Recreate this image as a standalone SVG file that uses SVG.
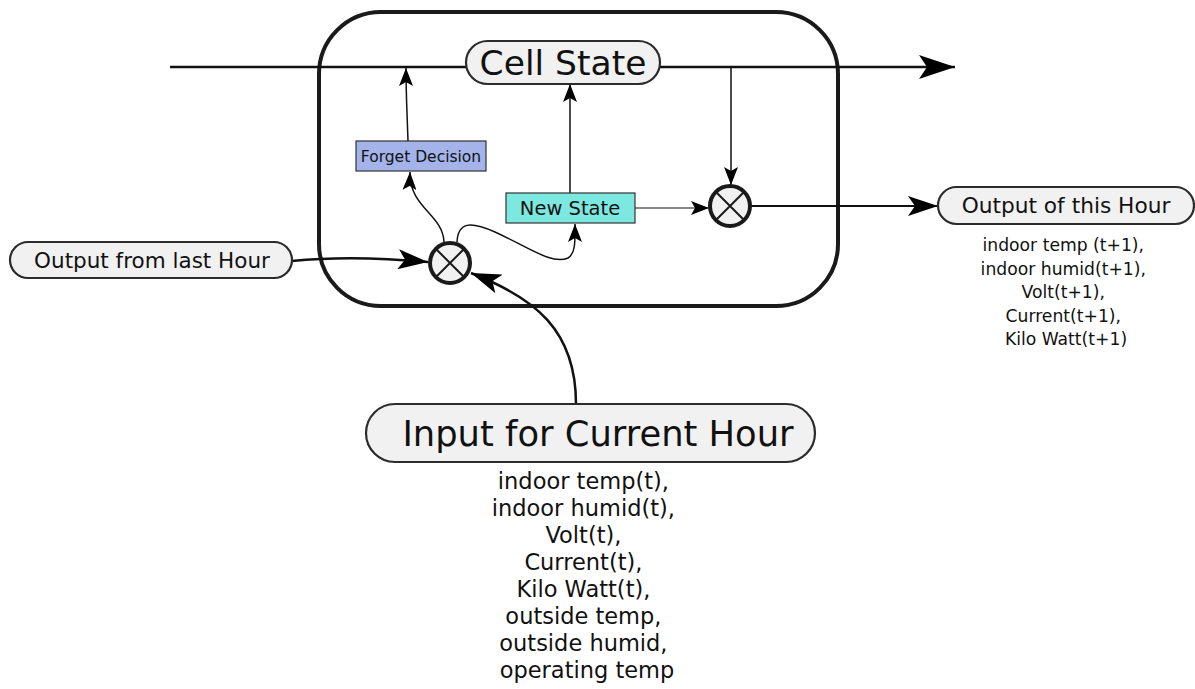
<svg xmlns="http://www.w3.org/2000/svg" width="1195" height="689" viewBox="0 0 1195 689">
  <style>
    .pill { fill: #f1f1f1; stroke: #2b2b2b; stroke-width: 2.2; }
    .lbl { font-family: "DejaVu Sans", Verdana, sans-serif; fill: #111; text-anchor: middle; }
    .wire { fill: none; stroke: #111; }
    .op { fill: #f1f1f1; stroke: #1a1a1a; stroke-width: 4; }
    .opx { stroke: #1a1a1a; stroke-width: 2; }
  </style>
  <defs>
    <marker id="big" markerUnits="userSpaceOnUse" viewBox="0 0 36 24" refX="36" refY="12" markerWidth="36" markerHeight="24" orient="auto">
      <path d="M0,0 L36,12 L0,24 L8,12 Z" fill="#000"/>
    </marker>
    <marker id="mid" markerUnits="userSpaceOnUse" viewBox="0 0 30 20" refX="30" refY="10" markerWidth="30" markerHeight="20" orient="auto">
      <path d="M0,0 L30,10 L0,20 L7,10 Z" fill="#000"/>
    </marker>
    <marker id="sm" markerUnits="userSpaceOnUse" viewBox="0 0 18 14" refX="18" refY="7" markerWidth="18" markerHeight="14" orient="auto">
      <path d="M0,0 L18,7 L0,14 L4,7 Z" fill="#000"/>
    </marker>
  </defs>

  <!-- cell boundary -->
  <rect id="cell" x="319" y="12" width="519" height="294" rx="62" ry="62" fill="none" stroke="#1a1a1a" stroke-width="4"/>

  <g id="connectors">
    <!-- cell state conveyor -->
    <path class="wire" d="M170,67 L955,67" stroke-width="2.5" marker-end="url(#big)"/>
    <!-- forget decision up to conveyor -->
    <path class="wire" d="M408,141 C407,110 406,95 406,68" stroke-width="1.5" marker-end="url(#sm)"/>
    <!-- new state up to cell state -->
    <path class="wire" d="M570,193 L570,84" stroke-width="1.5" marker-end="url(#sm)"/>
    <!-- conveyor down to output gate -->
    <path class="wire" d="M731,67 L731,185" stroke-width="1.5" marker-end="url(#sm)"/>
    <!-- new state to output gate -->
    <path class="wire" d="M635,208 L709,208" stroke-width="1.2" marker-end="url(#sm)"/>
    <!-- output gate to output of this hour -->
    <path class="wire" d="M751,206 L938,206" stroke-width="2" marker-end="url(#mid)"/>
    <!-- last hour output into input gate -->
    <path class="wire" d="M292,261 C340,256 385,258 428,262" stroke-width="2.5" marker-end="url(#mid)"/>
    <!-- current input into input gate -->
    <path class="wire" d="M576,404 C576,330 535,298 471,273" stroke-width="2.5" marker-end="url(#mid)"/>
    <!-- input gate to forget decision -->
    <path class="wire" d="M444,242 C443,214 409,208 410,172" stroke-width="1.5" marker-end="url(#sm)"/>
    <!-- input gate to new state -->
    <path class="wire" d="M457,242 C458,222 470,221 495,232 C530,248 552,265 568,258 C576,253 575,240 575,224" stroke-width="1.5" marker-end="url(#sm)"/>
  </g>

  <g id="cell-state">
    <rect class="pill" x="466" y="41" width="194" height="43" rx="21.5"/>
    <text class="lbl" x="563" y="75" font-size="34.5">Cell State</text>
  </g>

  <g id="forget-decision">
    <rect x="356" y="141" width="130" height="30" fill="#a4b4ea" stroke="#333" stroke-width="1.2"/>
    <text class="lbl" x="421" y="161.5" font-size="15.5">Forget Decision</text>
  </g>

  <g id="new-state">
    <rect x="506" y="193" width="129" height="30" fill="#7de8e0" stroke="#333" stroke-width="1.2"/>
    <text class="lbl" x="570" y="215" font-size="19.5">New State</text>
  </g>

  <g id="input-gate">
    <circle class="op" cx="450" cy="263" r="20"/>
    <path class="opx" d="M436,249 L464,277 M464,249 L436,277"/>
  </g>

  <g id="output-gate">
    <circle class="op" cx="730" cy="206" r="20"/>
    <path class="opx" d="M716,192 L744,220 M744,192 L716,220"/>
  </g>

  <g id="output-last-hour">
    <rect class="pill" x="10" y="242" width="282" height="36" rx="18"/>
    <text class="lbl" x="152" y="268" font-size="21.5">Output from last Hour</text>
  </g>

  <g id="output-this-hour">
    <rect class="pill" x="938" y="187" width="256" height="37" rx="18.5"/>
    <text class="lbl" x="1066" y="213" font-size="21.7">Output of this Hour</text>
    <text class="lbl" font-size="17.2">
      <tspan x="1066" y="251">indoor temp (t+1),</tspan>
      <tspan x="1066" y="274.5">indoor humid(t+1),</tspan>
      <tspan x="1066" y="298">Volt(t+1),</tspan>
      <tspan x="1066" y="321.5">Current(t+1),</tspan>
      <tspan x="1066" y="345">Kilo Watt(t+1)</tspan>
    </text>
  </g>

  <g id="input-current-hour">
    <rect class="pill" x="366" y="404" width="449" height="58" rx="29"/>
    <text class="lbl" x="598" y="446" font-size="35.3">Input for Current Hour</text>
    <text class="lbl" font-size="22.5">
      <tspan x="587" y="489">indoor temp(t),</tspan>
      <tspan x="587" y="516">indoor humid(t),</tspan>
      <tspan x="587" y="543">Volt(t),</tspan>
      <tspan x="587" y="570">Current(t),</tspan>
      <tspan x="587" y="597">Kilo Watt(t),</tspan>
      <tspan x="587" y="624">outside temp,</tspan>
      <tspan x="587" y="651">outside humid,</tspan>
      <tspan x="587" y="678">operating temp</tspan>
    </text>
  </g>
</svg>
